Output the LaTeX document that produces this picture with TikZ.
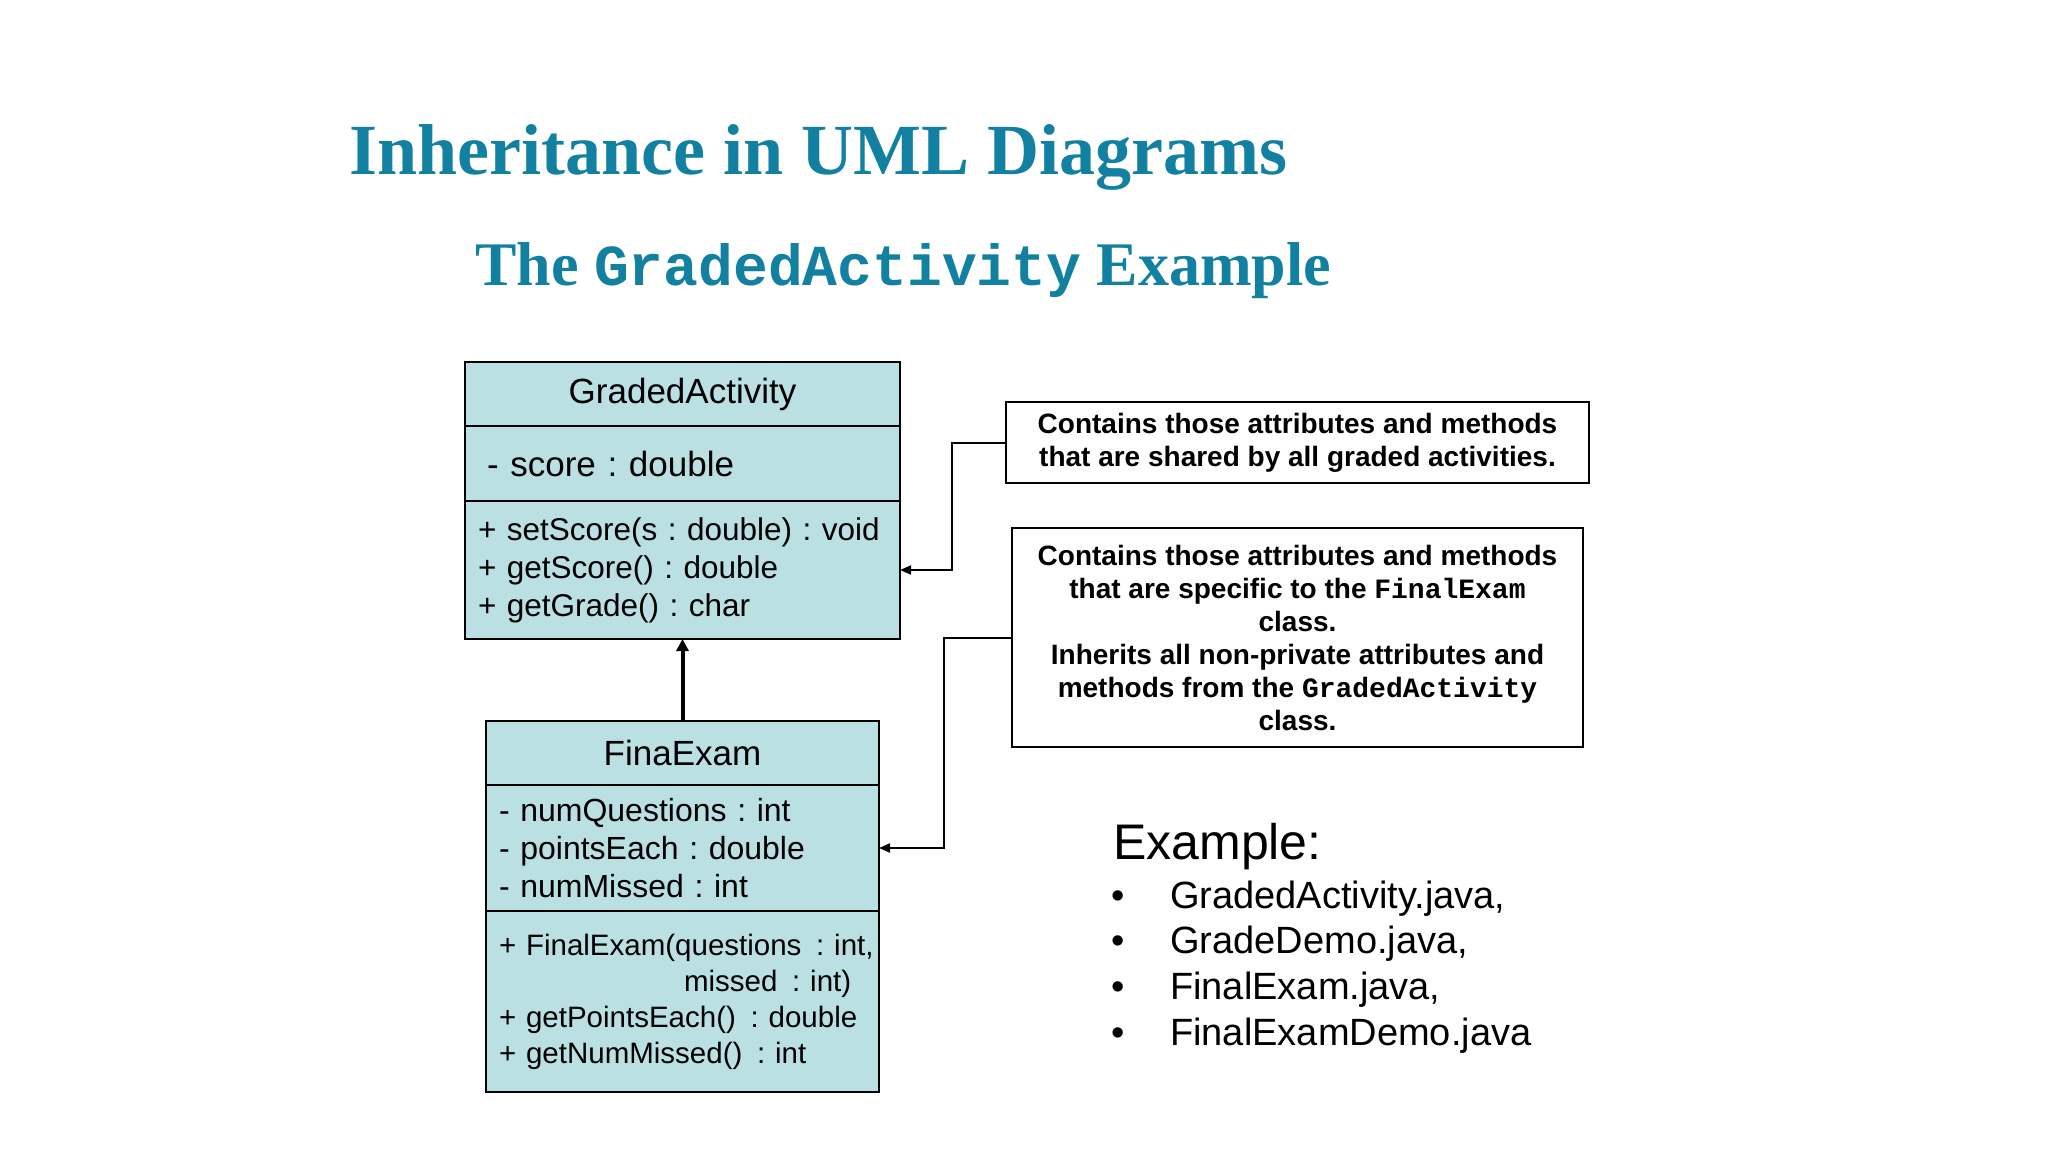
\documentclass[tikz,border=0pt]{standalone}
\usepackage{fontspec}
\setmainfont{Liberation Serif}
\setsansfont{Liberation Sans}
\setmonofont{Liberation Mono}
\usepackage{tikz}
\usetikzlibrary{positioning,arrows.meta}
\definecolor{titleteal}{RGB}{18,128,160}
\definecolor{umlfill}{RGB}{186,224,227}
\tikzset{
  part/.style     = { draw, line width=1.8pt, fill=umlfill, inner sep=0pt, outer sep=0pt },
  cname/.style    = { part, minimum width=#1, minimum height=64pt, font=\sffamily\fontsize{35}{42}\selectfont },
  members/.style  = { part, align=left, text width=#1, inner xsep=13pt },
  note/.style     = { draw, line width=1.8pt, fill=white, align=center, inner sep=0pt,
                      font=\sffamily\bfseries\fontsize{28}{33}\selectfont },
  notelink/.style = { line width=2pt, -{Triangle[length=11pt,width=9pt]} },
  inherit/.style  = { line width=4pt, -{Triangle[length=12pt,width=12pt]} },
  heading/.style  = { anchor=base west, inner sep=0pt, text=titleteal, font=\bfseries }
}

\begin{document}
\frenchspacing
\hyphenpenalty=10000
\begin{tikzpicture}[x=1pt,y=-1pt]
\fill[white] (0,0) rectangle (2048,1152);
\useasboundingbox (0,0) rectangle (2048,1152);

% titles
\node[heading, font=\bfseries\fontsize{72}{80}\selectfont] (title) at (349,174) {Inheritance in UML Diagrams};
\node[heading, font=\bfseries\fontsize{62}{70}\selectfont] (subtitle) at (475,285)
  {The {\ttfamily\fontsize{58}{66}\selectfont GradedActivity} Example};

% superclass
\node[cname=435pt] (ga-name) at (682.5,394) {GradedActivity};
\node[members=409pt, below=0pt of ga-name, minimum height=75pt,
      font=\sffamily\fontsize{35}{42}\selectfont] (ga-attr) {\hspace*{9pt}- score : double};
\node[members=409pt, below=0pt of ga-attr, minimum height=138pt,
      font=\sffamily\fontsize{31.5}{38}\selectfont] (ga-ops)
  {+ setScore(s : double) : void\\
   + getScore() : double\\
   + getGrade() : char};

% subclass
\node[cname=393pt] (fe-name) at (682.5,753) {FinaExam};
\node[members=367pt, below=0pt of fe-name, minimum height=126pt,
      font=\sffamily\fontsize{32}{38}\selectfont] (fe-attr)
  {- numQuestions : int\\
   - pointsEach : double\\
   - numMissed : int};
\node[members=367pt, below=0pt of fe-attr, minimum height=181pt,
      font=\sffamily\fontsize{29.5}{36}\selectfont] (fe-ops)
  {\mbox{+ FinalExam(questions\ \,: int,}\\
   \hspace*{185pt}\mbox{missed\ \,: int)}\\
   \mbox{+ getPointsEach()\ \,: double}\\
   \mbox{+ getNumMissed()\ \,: int}};

\draw[inherit] (fe-name.north) -- (ga-ops.south);

% notes
\node[note, minimum width=583pt, minimum height=81pt] (note-shared) at (1297.5,442.5)
  {Contains those attributes and methods\\that are shared by all graded activities.};
\node[note, minimum width=571pt, minimum height=219pt] (note-specific) at (1297.5,637.5)
  {Contains those attributes and methods\\
   that are specific to the {\ttfamily FinalExam}\\
   class.\\
   Inherits all non-private attributes and\\
   methods from the {\ttfamily GradedActivity}\\
   class.};

\draw[notelink] (note-shared.west) -- ++(-53,0) |- (ga-ops.east);
\draw[notelink] (note-specific.west) -- ++(-67,0) |- (fe-attr.east);

% example files
\node[anchor=base west, inner sep=0pt, font=\sffamily\fontsize{50}{60}\selectfont] (example) at (1113,859) {Example:};
\foreach \f [count=\i] in {{GradedActivity.java,},{GradeDemo.java,},{FinalExam.java,},{FinalExamDemo.java}}
{
  \node[anchor=base west, inner sep=0pt, font=\sffamily\fontsize{38}{46}\selectfont] (bullet\i) at (1111,{862.3+45.7*\i}) {\textbullet};
  \node[anchor=base west, inner sep=0pt, font=\sffamily\fontsize{38}{46}\selectfont] (file\i) at (1170,{862.3+45.7*\i}) {\f};
}
\end{tikzpicture}
\end{document}
